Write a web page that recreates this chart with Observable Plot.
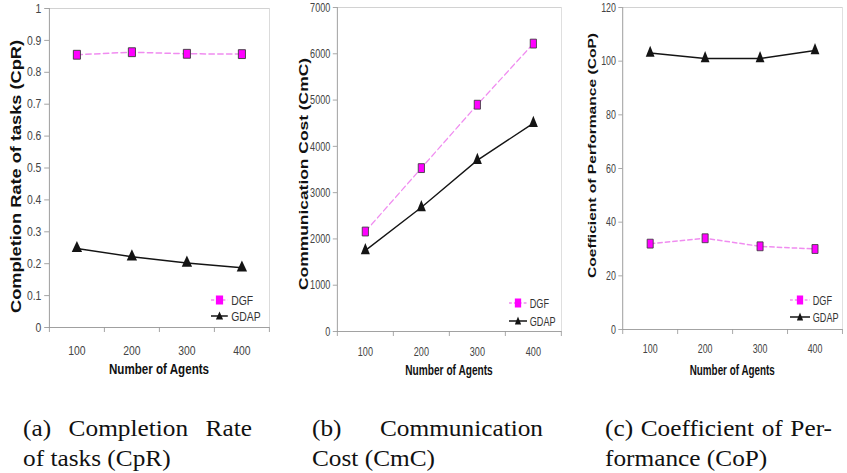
<!DOCTYPE html>
<html><head><meta charset="utf-8">
<script src="https://cdn.jsdelivr.net/npm/d3@7"></script>
<script src="https://cdn.jsdelivr.net/npm/@observablehq/plot@0.6"></script>
<style>
html,body{margin:0;padding:0;background:#fff;overflow:hidden;width:847px;height:473px}
#root{position:relative;width:847px;height:473px;overflow:hidden}
.panel{position:absolute;top:0}
.legend{position:absolute;font-family:"Liberation Sans",Arial,sans-serif;color:#333;font-size:13px;transform-origin:0 0;white-space:nowrap}
.legend .row{display:flex;align-items:center;height:17px}
.legend svg{display:block;margin-right:4px}
.cap{position:absolute;font-family:"Liberation Serif","Times New Roman",serif;font-size:23px;line-height:30px;color:#111;transform-origin:0 0}
.cap .l1{text-align:justify;text-align-last:justify}
</style>
</head><body><div id="root"></div>
<script>
// ---- data ----
const agents = [100, 200, 300, 400];
const bandEdges = [50, 150, 250, 350, 450];
const seriesNames = ["DGF", "GDAP"];
const cprDGF = [0.855, 0.863, 0.858, 0.857];
const cprGDAP = [0.248, 0.222, 0.202, 0.187];
const cmcDGF = [2160, 3530, 4900, 6220];
const cmcGDAP = [1750, 2680, 3700, 4500];
const copDGF = [32, 34, 31, 30];
const copGDAP = [103, 101, 101, 104];
const cprTicks = [0, 0.1, 0.2, 0.3, 0.4, 0.5, 0.6, 0.7, 0.8, 0.9, 1];
const cmcTicks = [0, 1000, 2000, 3000, 4000, 5000, 6000, 7000];
const copTicks = [0, 20, 40, 60, 80, 100, 120];
const xTitle = "Number of Agents";
const yTitles = ["Completion Rate of tasks (CpR)", "Communication Cost (CmC)", "Coefficient of Performance (CoP)"];
const captions = [
  ["(a) Completion Rate", "of tasks (CpR)"],
  ["(b) Communication", "Cost (CmC)"],
  ["(c) Coefficient of Per-", "formance (CoP)"]
];

const DGF_LINE = "#f08cf0", DGF_FILL = "#ff00ff", GDAP_COL = "#141414";
const root = document.getElementById("root");

function makePanel(cfg) {
  const {left, width, height, s, plotL, plotR, plotT, plotB, yDomain, yTicks, yFmt, dgf, gdap,
         yTitle, yTitleTop, yTitleBottom, yTitleBase, yFont, xTitleY, xPad, legend} = cfg;
  const Lw = width / s;
  const mL = plotL / s, mR = (width - plotR) / s;
  const dRows = agents.map((a, i) => ({a, v: dgf[i]}));
  const gRows = agents.map((a, i) => ({a, v: gdap[i]}));
  const chart = Plot.plot({
    width: Lw, height,
    marginLeft: mL, marginRight: mR, marginTop: plotT, marginBottom: height - plotB,
    style: {fontFamily: "'Liberation Sans', Arial, sans-serif", background: "transparent", overflow: "visible"},
    x: {type: "linear", domain: [50, 450]},
    y: {domain: yDomain},
    marks: [
      Plot.frame({stroke: "#d2d2d2"}),
      Plot.ruleY([yDomain[0]], {stroke: "#9a9a9a"}),
      Plot.ruleX([50], {stroke: "#9a9a9a"}),
      Plot.axisY(yTicks, {tickSize: 6, tickPadding: 4, stroke: "#9a9a9a", fill: "#444", fontSize: 13,
        tickFormat: yFmt, label: yTitle, labelAnchor: "center", labelArrow: "none"}),
      Plot.axisX(bandEdges, {tickSize: 5, stroke: "#9a9a9a", tickFormat: () => "", label: null}),
      Plot.axisX(agents, {tickSize: 0, tickPadding: xPad, fill: "#444", fontSize: 13,
        label: xTitle, labelAnchor: "center", labelArrow: "none"}),
      Plot.line(dRows, {x: "a", y: "v", stroke: DGF_LINE, strokeWidth: 1.5, strokeDasharray: "7,4"}),
      Plot.line(gRows, {x: "a", y: "v", stroke: GDAP_COL, strokeWidth: 1.5}),
      Plot.dot(dRows, {x: "a", y: "v", symbol: "square", r: 5, fill: DGF_FILL, stroke: "#3a3a3a", strokeWidth: 1}),
      Plot.dot(gRows, {x: "a", y: "v", symbol: "triangle", r: 4.8, fill: GDAP_COL})
    ]
  });
  chart.setAttribute("width", width);
  chart.setAttribute("preserveAspectRatio", "none");
  chart.style.width = width + "px";
  chart.style.height = height + "px";
  // y title
  const yl = chart.querySelector('g[aria-label="y-axis label"] text');
  if (yl) {
    yl.removeAttribute("dy"); yl.removeAttribute("y"); yl.removeAttribute("x");
    yl.setAttribute("text-anchor", "middle");
    yl.setAttribute("transform", `translate(${yTitleBase / s},${(yTitleTop + yTitleBottom) / 2}) rotate(-90)`);
    yl.setAttribute("font-size", yFont);
    yl.setAttribute("font-weight", "bold");
    yl.setAttribute("fill", "#111");
    yl.setAttribute("textLength", yTitleBottom - yTitleTop);
    yl.setAttribute("lengthAdjust", "spacingAndGlyphs");
    const g = yl.parentNode; g.removeAttribute("transform");
  }
  const xl = chart.querySelector('g[aria-label="x-axis label"] text');
  if (xl) {
    xl.removeAttribute("dy"); xl.removeAttribute("y"); xl.removeAttribute("x");
    xl.setAttribute("text-anchor", "middle");
    xl.setAttribute("transform", `translate(${(mL + Lw - mR) / 2},${xTitleY + 5})`);
    xl.setAttribute("font-size", 14.5);
    xl.setAttribute("font-weight", "bold");
    xl.setAttribute("fill", "#111");
    const g = xl.parentNode; g.removeAttribute("transform");
  }
  const wrap = document.createElement("div");
  wrap.className = "panel";
  wrap.style.left = left + "px";
  wrap.appendChild(chart);
  root.appendChild(wrap);

  // legend (absolute page coordinates)
  const lg = document.createElement("div");
  lg.className = "legend";
  lg.style.left = legend.x + "px";
  lg.style.top = (legend.y - legend.rowH / 2) + "px";
  lg.style.transform = `scaleX(${s})`;
  seriesNames.forEach((name, i) => {
    const row = document.createElement("div");
    row.className = "row";
    row.style.height = legend.rowH + "px";
    const w = legend.lineW / s;
    const sym = i === 0
      ? `<line x1="0" y1="7" x2="${w}" y2="7" stroke="${DGF_LINE}" stroke-width="1.5" stroke-dasharray="4,3"/><rect x="${w/2-4.5}" y="2.5" width="9" height="9" fill="${DGF_FILL}"/>`
      : `<line x1="0" y1="7" x2="${w}" y2="7" stroke="${GDAP_COL}" stroke-width="1.5"/><path d="M${w/2},2.5 L${w/2+4.5},10.5 L${w/2-4.5},10.5 Z" fill="${GDAP_COL}"/>`;
    row.innerHTML = `<svg width="${w}" height="14">${sym}</svg><span>${name}</span>`;
    lg.appendChild(row);
  });
  root.appendChild(lg);
}

const fmt = d3.format("~g");
makePanel({left: 0, width: 285, height: 385, s: 0.8, plotL: 49, plotR: 269, plotT: 8, plotB: 327,
  yDomain: [0, 1], yTicks: cprTicks, yFmt: fmt, dgf: cprDGF, gdap: cprGDAP,
  yTitle: yTitles[0], yTitleTop: 40, yTitleBottom: 313, yTitleBase: 21, yFont: 18, xTitleY: 369, xPad: 18,
  legend: {x: 211, y: 300, rowH: 16, lineW: 17}});
makePanel({left: 285, width: 280, height: 385, s: 0.7, plotL: 52, plotR: 276, plotT: 7, plotB: 331,
  yDomain: [0, 7000], yTicks: cmcTicks, yFmt: d3.format("d"), dgf: cmcDGF, gdap: cmcGDAP,
  yTitle: yTitles[1], yTitleTop: 58, yTitleBottom: 290, yTitleBase: 23, yFont: 17.4, xTitleY: 370, xPad: 15,
  legend: {x: 509, y: 303, rowH: 18, lineW: 18}});
makePanel({left: 565, width: 290, height: 385, s: 0.7, plotL: 59, plotR: 285, plotT: 7, plotB: 329,
  yDomain: [0, 120], yTicks: copTicks, yFmt: d3.format("d"), dgf: copDGF, gdap: copGDAP,
  yTitle: yTitles[2], yTitleTop: 33, yTitleBottom: 278, yTitleBase: 32, yFont: 15.6, xTitleY: 370, xPad: 14,
  legend: {x: 790, y: 300, rowH: 17, lineW: 20}});

// captions
const capScale = 1.1;
const capPos = [{x: 23, w: 229}, {x: 312, w: 231}, {x: 605, w: 227}];
captions.forEach((c, i) => {
  const d = document.createElement("div");
  d.className = "cap";
  d.style.left = capPos[i].x + "px";
  d.style.top = "414px";
  d.style.width = (capPos[i].w / capScale) + "px";
  d.style.transform = `scaleX(${capScale})`;
  d.innerHTML = `<div class="l1">${c[0]}</div><div>${c[1]}</div>`;
  root.appendChild(d);
});
</script>
</body></html>
